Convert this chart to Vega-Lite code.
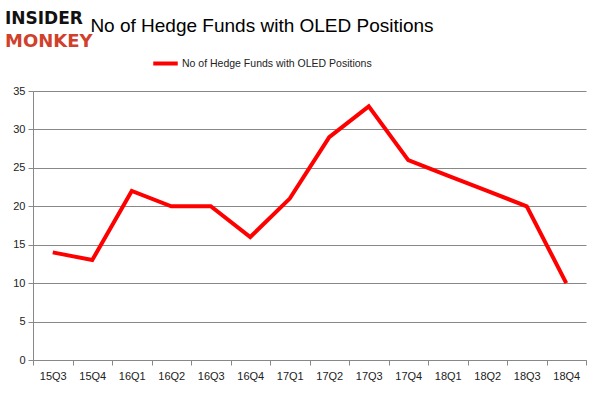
{
  "$schema": "https://vega.github.io/schema/vega-lite/v6.json",
  "width": 553,
  "height": 269,
  "autosize": "none",
  "padding": {"left": 33, "top": 91, "right": 15, "bottom": 36},
  "background": "white",
  "datasets": {
    "funds": [
      {"q": "15Q3", "v": 14, "s": "No of Hedge Funds with OLED Positions"},
      {"q": "15Q4", "v": 13, "s": "No of Hedge Funds with OLED Positions"},
      {"q": "16Q1", "v": 22, "s": "No of Hedge Funds with OLED Positions"},
      {"q": "16Q2", "v": 20, "s": "No of Hedge Funds with OLED Positions"},
      {"q": "16Q3", "v": 20, "s": "No of Hedge Funds with OLED Positions"},
      {"q": "16Q4", "v": 16, "s": "No of Hedge Funds with OLED Positions"},
      {"q": "17Q1", "v": 21, "s": "No of Hedge Funds with OLED Positions"},
      {"q": "17Q2", "v": 29, "s": "No of Hedge Funds with OLED Positions"},
      {"q": "17Q3", "v": 33, "s": "No of Hedge Funds with OLED Positions"},
      {"q": "17Q4", "v": 26, "s": "No of Hedge Funds with OLED Positions"},
      {"q": "18Q1", "v": 24, "s": "No of Hedge Funds with OLED Positions"},
      {"q": "18Q2", "v": 22, "s": "No of Hedge Funds with OLED Positions"},
      {"q": "18Q3", "v": 20, "s": "No of Hedge Funds with OLED Positions"},
      {"q": "18Q4", "v": 10, "s": "No of Hedge Funds with OLED Positions"}
    ],
    "one": [{"k": 1}]
  },
  "layer": [
    {
      "data": {"name": "funds"},
      "mark": {"type": "line", "strokeWidth": 4, "strokeJoin": "miter"},
      "encoding": {
        "x": {
          "field": "q",
          "type": "ordinal",
          "scale": {"type": "band", "paddingInner": 0, "paddingOuter": 0},
          "axis": {
            "title": null,
            "labelAngle": 0,
            "labelFont": "Liberation Sans",
            "labelFontSize": 11,
            "labelColor": "#222222",
            "domainColor": "#888888",
            "tickColor": "#888888",
            "tickBand": "extent",
            "tickSize": 5,
            "labelPadding": 5,
            "grid": false
          }
        },
        "y": {
          "field": "v",
          "type": "quantitative",
          "scale": {"domain": [0, 35], "nice": false},
          "axis": {
            "title": null,
            "values": [0, 5, 10, 15, 20, 25, 30, 35],
            "labelFont": "Liberation Sans",
            "labelFontSize": 11,
            "labelColor": "#222222",
            "domainColor": "#888888",
            "tickColor": "#888888",
            "gridColor": "#888888",
            "gridWidth": 1,
            "tickSize": 5,
            "labelPadding": 3
          }
        },
        "color": {
          "field": "s",
          "type": "nominal",
          "scale": {"range": ["#ff0000"]},
          "legend": {
            "title": null,
            "orient": "none",
            "legendX": 118,
            "legendY": -42,
            "symbolType": "stroke",
            "symbolStrokeWidth": 4,
            "symbolSize": 600,
            "labelFont": "Liberation Sans",
            "labelFontSize": 10.5,
            "labelOffset": 2,
            "labelLimit": 400,
            "labelColor": "#222222"
          }
        }
      }
    },
    {
      "data": {"name": "one"},
      "mark": {"type": "text", "text": "No of Hedge Funds with OLED Positions", "font": "Liberation Sans", "fontSize": 19, "align": "center", "baseline": "middle", "color": "#000000", "x": 229, "y": -65},
      "encoding": {}
    },
    {
      "data": {"name": "one"},
      "mark": {"type": "text", "text": "INSIDER", "font": "DejaVu Sans", "fontWeight": "bold", "fontSize": 17, "align": "left", "baseline": "alphabetic", "color": "#111111", "x": -28, "y": -67},
      "encoding": {}
    },
    {
      "data": {"name": "one"},
      "mark": {"type": "text", "text": "MONKEY", "font": "DejaVu Sans", "fontWeight": "bold", "fontSize": 18, "align": "left", "baseline": "alphabetic", "color": "#d0402b", "x": -28, "y": -44},
      "encoding": {}
    }
  ],
  "config": {
    "view": {"stroke": null}
  }
}
